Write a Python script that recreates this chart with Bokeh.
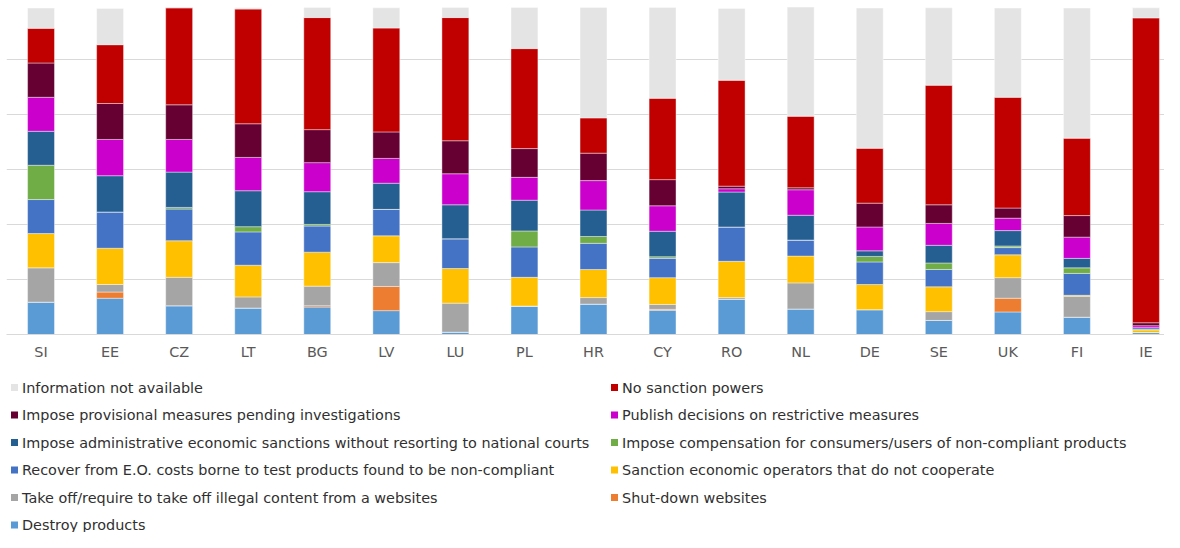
from bokeh.plotting import figure
from bokeh.layouts import column
from bokeh.models import ColumnDataSource, Range1d, FixedTicker
from bokeh.core.properties import value
from bokeh.embed import file_html
from bokeh.resources import INLINE

countries = ["SI", "EE", "CZ", "LT", "BG", "LV", "LU", "PL", "HR",
             "CY", "RO", "NL", "DE", "SE", "UK", "FI", "IE"]

# shares (%) per country, stacking order bottom -> top
destroy       = [9.9, 11.1, 8.8, 8.1, 8.4, 7.3, 0.7, 8.7, 9.3, 7.4, 10.8, 7.8, 7.6, 4.3, 6.9, 5.3, 0.6]
shutdown      = [0.0, 1.9, 0.0, 0.0, 0.4, 7.4, 0.0, 0.0, 0.0, 0.3, 0.0, 0.0, 0.0, 0.0, 4.2, 0.0, 0.0]
takeoff       = [10.5, 2.3, 8.7, 3.4, 6.0, 7.3, 8.9, 0.0, 2.0, 1.5, 0.5, 8.0, 0.0, 2.7, 6.3, 6.4, 0.0]
sanction      = [10.5, 11.1, 11.2, 9.7, 10.4, 8.2, 10.6, 8.8, 8.6, 8.2, 11.1, 8.2, 7.7, 7.6, 7.0, 0.3, 0.8]
recover       = [10.4, 11.1, 9.7, 10.2, 8.0, 8.1, 9.1, 9.3, 8.0, 5.9, 10.5, 4.9, 6.9, 5.3, 2.2, 6.7, 0.3]
compensation  = [10.5, 0.0, 0.5, 1.6, 0.5, 0.0, 0.0, 4.9, 2.1, 0.5, 0.0, 0.0, 1.7, 2.0, 0.5, 1.7, 0.0]
admin         = [10.4, 11.1, 10.8, 11.0, 10.0, 8.0, 10.4, 9.4, 8.1, 7.8, 10.7, 7.6, 1.7, 5.4, 4.7, 2.9, 0.4]
publish       = [10.4, 11.1, 10.0, 10.2, 8.9, 7.6, 9.5, 7.0, 9.0, 7.8, 1.0, 7.8, 7.3, 6.7, 3.8, 6.5, 0.6]
provisional   = [10.5, 11.0, 10.6, 10.3, 10.1, 8.1, 10.1, 8.8, 8.4, 8.0, 0.8, 0.6, 7.3, 5.7, 3.1, 6.6, 0.9]
no_sanction   = [10.6, 18.0, 29.7, 35.1, 34.3, 31.8, 37.7, 30.6, 10.8, 24.9, 32.4, 21.9, 16.8, 36.6, 33.9, 23.7, 93.3]
not_available = [6.2, 11.1, 0.0, 0.4, 3.1, 6.2, 3.1, 12.6, 33.8, 27.8, 22.0, 33.4, 42.9, 23.7, 27.3, 39.8, 3.1]

series_keys = ["destroy", "shutdown", "takeoff", "sanction", "recover", "compensation",
               "admin", "publish", "provisional", "no_sanction", "not_available"]
series_labels = [
    "Destroy products",
    "Shut-down websites",
    "Take off/require to take off illegal content from a websites",
    "Sanction economic operators that do not cooperate",
    "Recover from E.O. costs borne to test products found to be non-compliant",
    "Impose compensation for consumers/users of non-compliant products",
    "Impose administrative economic sanctions without resorting to national courts",
    "Publish decisions on restrictive measures",
    "Impose provisional measures pending investigations",
    "No sanction powers",
    "Information not available",
]
series_colors = ["#5B9BD5", "#ED7D31", "#A5A5A5", "#FFC000", "#4472C4", "#70AD47",
                 "#255E91", "#CC00CC", "#660033", "#C00000", "#E4E4E4"]

xpos = [i + 0.5 for i in range(len(countries))]
source = ColumnDataSource(dict(
    x=xpos, country=countries, destroy=destroy, shutdown=shutdown, takeoff=takeoff,
    sanction=sanction, recover=recover, compensation=compensation, admin=admin,
    publish=publish, provisional=provisional, no_sanction=no_sanction,
    not_available=not_available))

FONT = "DejaVu Sans"
FS = "14.4px"
W = 1164
TOP = 4
FRAME_H = 330
H1 = 370
H2 = 162
LEFT = 6
slot = 1174.0 / len(countries)          # px per category in the reference layout
x_end = (W - LEFT) / slot

p = figure(x_range=Range1d(0, x_end), y_range=Range1d(0, 101.0),
           width=W, height=H1, output_backend="svg", toolbar_location=None,
           min_border_left=LEFT, min_border_right=0, min_border_top=TOP,
           min_border_bottom=H1 - TOP - FRAME_H)

p.vbar_stack(series_keys, x="x", width=0.39, source=source,
             color=series_colors, line_color="white", line_width=0.6, line_alpha=0.7)

grid_ticks = [i * 101.0 / 6 for i in range(7)]
p.yaxis.ticker = FixedTicker(ticks=grid_ticks)
p.ygrid.ticker = FixedTicker(ticks=grid_ticks)
p.yaxis.visible = False
p.ygrid.grid_line_color = "#D9D9D9"
p.ygrid.grid_line_width = 1
p.xgrid.visible = False
p.outline_line_color = None

p.xaxis.ticker = FixedTicker(ticks=xpos)
p.xaxis.major_label_overrides = {x: c for x, c in zip(xpos, countries)}
p.xaxis.axis_line_color = "#D9D9D9"
p.xaxis.major_tick_line_color = None
p.xaxis.minor_tick_line_color = None
p.xaxis.major_label_text_font = FONT
p.xaxis.major_label_text_font_size = FS
p.xaxis.major_label_text_color = "#595959"
p.xaxis.major_label_standoff = 3

# legend (two columns, row-major, top of the stack first)
order = list(range(len(series_keys)))[::-1]
col_x = [14, 614]
row0, pitch = 17, 27.5
lx, ly, lt, lc = [], [], [], []
for k, idx in enumerate(order):
    lx.append(col_x[k % 2])
    ly.append(row0 + pitch * (k // 2))
    lt.append(series_labels[idx])
    lc.append(series_colors[idx])
leg_src = ColumnDataSource(dict(x=lx, y=ly, label=lt, color=lc))

# legend panel: data units equal page pixels (frame aligned with the chart frame)
leg = figure(width=W, height=H2, x_range=Range1d(LEFT, W), y_range=Range1d(H2, 0),
             output_backend="svg", toolbar_location=None, min_border=0,
             min_border_left=LEFT, min_border_right=0,
             x_axis_location=None, y_axis_location=None)
leg.grid.visible = False
leg.outline_line_color = None
leg.scatter(x="x", y="y", source=leg_src, marker="square", size=7,
            fill_color="color", line_color=None)
leg.text(x="x", y="y", text="label", source=leg_src, x_offset=7.5,
         text_baseline="middle", text_align="left", text_font=value(FONT),
         text_font_size=FS, text_color="#303030")

layout = column(p, leg, spacing=0)
open("out.html", "w").write(file_html(layout, INLINE))
